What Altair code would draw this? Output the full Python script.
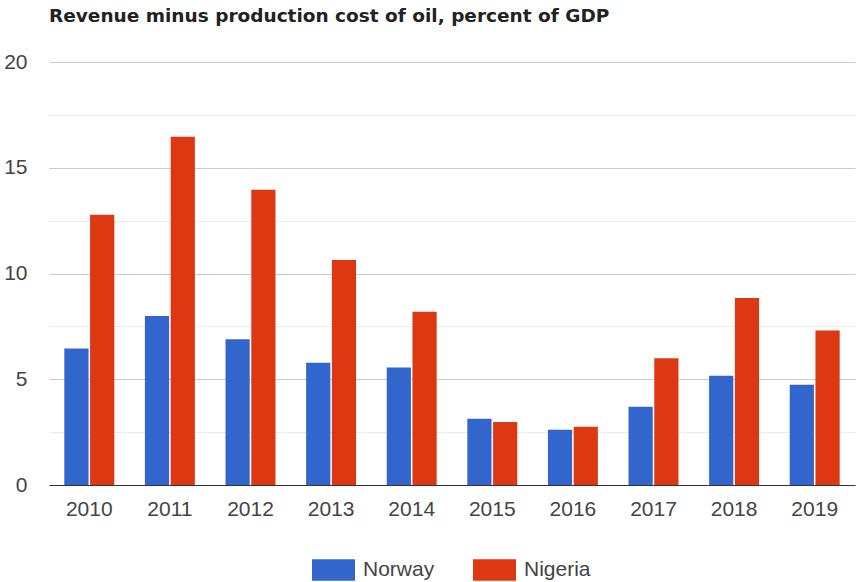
import altair as alt
import pandas as pd

years = ["2010", "2011", "2012", "2013", "2014", "2015", "2016", "2017", "2018", "2019"]
norway = [6.45, 7.99, 6.89, 5.78, 5.56, 3.13, 2.61, 3.70, 5.17, 4.74]
nigeria = [12.78, 16.47, 13.96, 10.64, 8.19, 2.98, 2.76, 5.99, 8.84, 7.31]
series = ["Norway", "Nigeria"]
colors = ["#3366cc", "#dc3912"]
title_text = "Revenue minus production cost of oil, percent of GDP"
y_ticks = [0, 2.5, 5, 7.5, 10, 12.5, 15, 17.5, 20]

rows = []
for i, yr in enumerate(years):
    rows.append({"year": yr, "country": "Norway", "value": norway[i]})
    rows.append({"year": yr, "country": "Nigeria", "value": nigeria[i]})
df = pd.DataFrame(rows)

FONT = "Liberation Sans"

chart = alt.Chart(df).mark_bar().encode(
    x=alt.X("year:N", sort=years,
            scale=alt.Scale(paddingInner=0.38, paddingOuter=0.19),
            axis=alt.Axis(title=None, labelAngle=0, labelFontSize=21, labelColor="#444",
                          labelFont=FONT, labelPadding=13, ticks=False,
                          domainColor="#333", domainWidth=1, grid=False)),
    xOffset=alt.XOffset("country:N", sort=series,
                        scale=alt.Scale(domain=series, paddingInner=0.06, paddingOuter=0)),
    y=alt.Y("value:Q",
            scale=alt.Scale(domain=[0, 20], nice=False),
            axis=alt.Axis(title=None, values=y_ticks, labelFontSize=21, labelColor="#444",
                          labelFont=FONT, labelPadding=22, ticks=False, domain=False,
                          labelExpr="datum.value % 5 === 0 ? datum.label : ''",
                          gridColor=alt.condition("datum.value % 5 === 0",
                                                  alt.value("#cccccc"), alt.value("#ebebeb")),
                          gridWidth=1)),
    color=alt.Color("country:N", sort=series,
                    scale=alt.Scale(domain=series, range=colors),
                    legend=alt.Legend(title=None, orient="none", direction="horizontal",
                                      legendX=263, legendY=486,
                                      symbolType="M-1,-0.5H1V0.5H-1Z", symbolSize=1849,
                                      symbolStrokeWidth=0, symbolOpacity=1,
                                      labelFontSize=21, labelFont=FONT, labelColor="#444",
                                      labelOffset=8, columnPadding=38)),
).properties(
    width=806,
    height=423,
    padding={"left": 49, "top": 62, "right": 1, "bottom": 97},
    autosize=alt.AutoSizeParams(type="none"),
    title=alt.TitleParams(title_text, anchor="start", frame="group", fontSize=18.5,
                          font="DejaVu Sans", fontWeight="bold", color="#222", offset=26),
).configure_view(stroke=None)

chart.save("out.html", embed_options={"renderer": "svg", "actions": False})
